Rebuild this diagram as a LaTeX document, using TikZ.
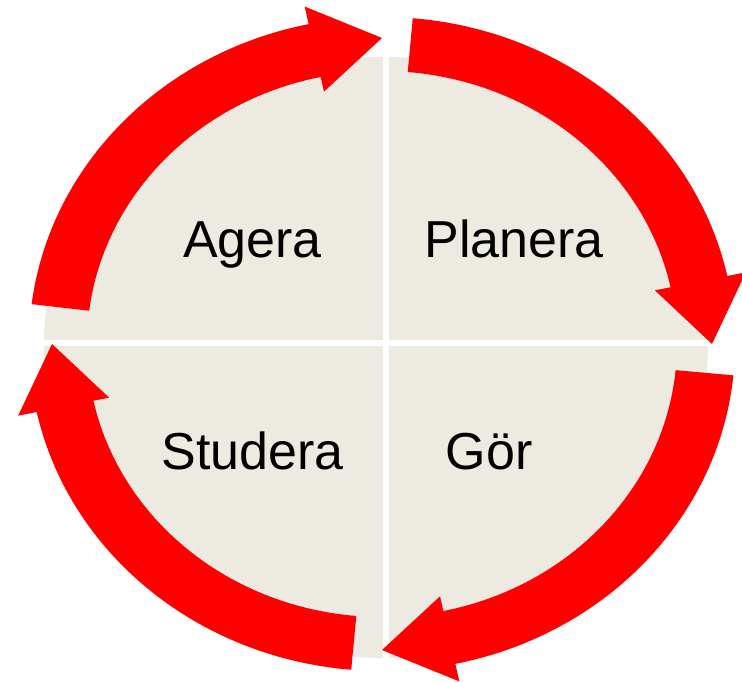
\documentclass[tikz,border=0pt]{standalone}
\usepackage{fontspec}
\setmainfont{Liberation Sans}
\definecolor{pdbeige}{RGB}{237,234,226}
\definecolor{pdred}{RGB}{255,0,0}

\begin{document}
\begin{tikzpicture}[
  x=0.5pt, y=0.5pt,
  quarter/.style={fill=pdbeige},
  divider/.style={draw=white, line width=3pt},
  cyclearrow/.style={fill=pdred},
  phase/.style={font=\fontsize{26}{30}\selectfont, anchor=base, inner sep=0pt}
]
\useasboundingbox (0,0) rectangle (742,683);

% four quarters
\fill[quarter] (386,340) -- ++(-342,0) arc[start angle=180, end angle=90, x radius=342, y radius=286] -- cycle;
\fill[quarter] (386,340) -- ++(0,286) arc[start angle=90, end angle=0, x radius=322, y radius=286] -- cycle;
\fill[quarter] (386,340) -- ++(322,0) arc[start angle=0, end angle=-90, x radius=322, y radius=315] -- cycle;
\fill[quarter] (386,340) -- ++(0,-315) arc[start angle=-90, end angle=-180, x radius=342, y radius=315] -- cycle;
\draw[divider] (386,0) -- (386,683);
\draw[divider] (0,340) -- (742,340);

% cycle arrows
\begin{scope}[shift={(382,339)}]
\foreach \q/\t in {180/173, 90/85, 0/-5.5, -90/-95} {
  \pgfmathsetmacro\j{\q-78}
  \pgfmathsetmacro\p{\q-90}
  \fill[cyclearrow] (\t:353 and 327)
    arc[start angle=\t, end angle=\j, x radius=353, y radius=327]
    -- (\j:372 and 345) -- (\p:330 and 306) -- (\j:279 and 258) -- (\j:295 and 273)
    arc[start angle=\j, end angle=\t, x radius=295, y radius=273] -- cycle;
}
\end{scope}

\node[phase] (agera)   at (252.5,425) {Agera};
\node[phase] (planera) at (514,425)   {Planera};
\node[phase] (studera) at (252.5,213) {Studera};
\node[phase] (gor)     at (489,213)   {Gör};
\end{tikzpicture}
\end{document}
